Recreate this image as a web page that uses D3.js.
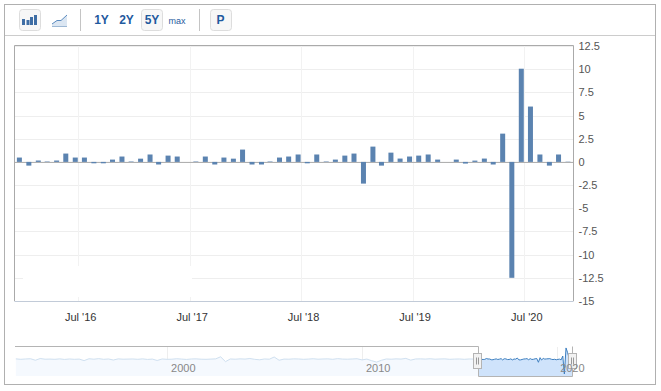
<!DOCTYPE html>
<html><head><meta charset="utf-8">
<script src="https://cdnjs.cloudflare.com/ajax/libs/d3/7.8.5/d3.min.js"></script>
<style>html,body{margin:0;padding:0;background:#fff}svg{display:block}text{font-family:"Liberation Sans",Arial,sans-serif}</style>
</head><body><svg id="c" width="661" height="391"></svg>
<script>
const months=["2015-12-18","2016-01-18","2016-02-18","2016-03-18","2016-04-18","2016-05-18","2016-06-18","2016-07-18","2016-08-18","2016-09-18","2016-10-18","2016-11-18","2016-12-18",
"2017-01-18","2017-02-18","2017-03-18","2017-04-18","2017-05-18","2017-06-18","2017-07-18","2017-08-18","2017-09-18","2017-10-18","2017-11-18","2017-12-18",
"2018-01-18","2018-02-18","2018-03-18","2018-04-18","2018-05-18","2018-06-18","2018-07-18","2018-08-18","2018-09-18","2018-10-18","2018-11-18","2018-12-18",
"2019-01-18","2019-02-18","2019-03-18","2019-04-18","2019-05-18","2019-06-18","2019-07-18","2019-08-18","2019-09-18","2019-10-18","2019-11-18","2019-12-18",
"2020-01-18","2020-02-18","2020-03-18","2020-04-18","2020-05-18","2020-06-18","2020-07-18","2020-08-18","2020-09-18","2020-10-18","2020-11-18"];
const values=[0.47,-0.4,0.15,0.05,0.15,0.9,0.47,0.47,-0.15,-0.15,0.25,0.58,0.05,0.35,0.8,-0.28,0.68,0.58,0,0.05,0.58,-0.28,0.47,0.35,1.33,-0.28,-0.28,0.05,0.47,0.58,0.8,-0.15,0.8,0.05,0.25,0.68,0.9,-2.34,1.65,-0.4,1.0,0.36,0.58,0.68,0.8,0.25,0,0.25,-0.18,0.14,0.36,-0.28,3.05,-12.5,10.05,5.97,0.8,-0.4,0.8,0.03];
const yTicks=[12.5,10,7.5,5,2.5,0,-2.5,-5,-7.5,-10,-12.5,-15];
const xTickDates=["2016-07-01","2017-07-01","2018-07-01","2019-07-01","2020-07-01"];
const xTickLabels=["Jul '16","Jul '17","Jul '18","Jul '19","Jul '20"];
const historyStart="1992-03-01";
const historyValues=[0.6,0.2,0.5,0.7,-0.6,0.9,0.3,0.4,0.2,0.6,0.1,0.5,0.2,0.4,-0.9,0.7,0.3,0.8,0.2,0.5,-0.4,0.6,0.3,0.4,0.5,0.2,0.6,0.1,0.4,-0.8,0.5,0.2,0.3,0.7,0.4,0.1,0.5,0.6,0.3,0.2,0.4,0.6,2.4,-1.8,0.5,0.3,0.6,0.4,0.9,0.2,-0.2,0.5,0.3,2.2,-0.6,0.4,0.3,0.6,0.5,0.2,0.4,0.7,0.3,0.5,0.6,0.2,0.8,0.4,0.3,0.5,0.7,-0.3,0.4,-1.0,-2.2,-0.6,0.5,0.3,0.6,0.4,1.0,-0.5,0.5,0.6,0.4,0.7,0.3,0.5,0.6,0.2,0.4,0.5,0.2,0.5,0.4];
const navLabels=[["2000","2000-11-01"],["2010","2010-11-01"],["2020","2020-10-15"]];
const navGrid=["2000-01-01","2010-01-01","2020-01-01"];

const parse=d3.utcParse("%Y-%m-%d");
const svg=d3.select("#c");
const x=d3.scaleUtc().domain([parse("2015-12-02"),parse("2020-12-06")]).range([14.5,573.5]);
const y=d3.scaleLinear().domain([-15,12.5]).range([301,46]);
const bars=months.map((m,i)=>({d:parse(m),v:values[i]}));

// outer frame and toolbar
svg.append("rect").attr("x",4.5).attr("y",4.5).attr("width",651).attr("height",380).attr("fill","#fff").attr("stroke","#b0b0b0");
svg.append("line").attr("x1",5).attr("x2",655).attr("y1",35.5).attr("y2",35.5).attr("stroke","#ccc");
[[19.5,9.5],[141.5,9.5],[210.5,9.5]].forEach(p=>svg.append("rect").attr("x",p[0]).attr("y",p[1]).attr("width",21).attr("height",21).attr("rx",3).attr("fill","#f7f7f7").attr("stroke","#ddd"));
[80.5,199.5].forEach(v=>svg.append("line").attr("x1",v).attr("x2",v).attr("y1",9).attr("y2",31).attr("stroke","#c4c4c4"));
[[22,19,3],[26.5,20,3],[30,17,3],[34,15,3]].forEach(b=>svg.append("rect").attr("x",b[0]).attr("y",b[1]).attr("width",b[2]).attr("height",25-b[1]).attr("fill","#3f6ea5"));
svg.append("path").attr("d","M52 24L57 20.5L61 20.5L67 15V26H52Z").attr("fill","#dbe6f2");
svg.append("path").attr("d","M52 24L57 20.5L61 20.5L67 15").attr("fill","none").attr("stroke","#5b8bbf");
svg.append("line").attr("x1",52).attr("x2",67).attr("y1",26.5).attr("y2",26.5).attr("stroke","#9db8d4");
[["1Y",101.5,12],["2Y",126.5,12],["5Y",152,12],["max",177,9],["P",220.5,12]].forEach(t=>svg.append("text").attr("x",t[1]).attr("y",24).attr("text-anchor","middle").attr("font-size",t[2]).attr("font-weight",t[2]===12?"bold":"normal").attr("fill","#1f5a9e").text(t[0]));

// plot grid
const g=svg.append("g");
g.selectAll(".h").data(yTicks).join("line").attr("x1",14.5).attr("x2",573.5).attr("y1",d=>Math.round(y(d))+.5).attr("y2",d=>Math.round(y(d))+.5).attr("stroke","#eee");
g.selectAll(".v").data(xTickDates).join("line").attr("x1",d=>Math.round(x(parse(d)))-.5).attr("x2",d=>Math.round(x(parse(d)))-.5).attr("y1",46).attr("y2",301).attr("stroke","#f2f2f2");
g.append("rect").attr("x",23).attr("y",266).attr("width",169).attr("height",31).attr("fill","#fff");
g.append("line").attr("x1",14.5).attr("x2",573.5).attr("y1",y(0)+.5).attr("y2",y(0)+.5).attr("stroke","#aaa");
g.selectAll(".b").data(bars).join("rect").attr("x",d=>x(d.d)-2.5).attr("width",5).attr("y",d=>y(Math.max(0,d.v))).attr("height",d=>Math.abs(y(d.v)-y(0))).attr("fill","#5b83b0");
g.append("path").attr("d","M14.5 301V45.5H573.5V301").attr("fill","none").attr("stroke","#aaa");
g.append("line").attr("x1",14.5).attr("x2",573.5).attr("y1",301.5).attr("y2",301.5).attr("stroke","#c2cbd8");

// axes
const yAxis=d3.axisRight(y).tickValues(yTicks).tickSize(0).tickPadding(5).tickFormat(d=>String(d));
const ya=svg.append("g").attr("transform","translate(573.5,0)").call(yAxis);
ya.select(".domain").remove();
ya.selectAll("text").attr("font-size",11).attr("font-family",null).attr("fill","#555");
const xAxis=d3.axisBottom(x).tickValues(xTickDates.map(parse)).tickSize(0).tickPadding(0).tickFormat((d,i)=>xTickLabels[i]);
const xa=svg.append("g").attr("transform","translate(1,313)").call(xAxis);
xa.select(".domain").remove();
xa.selectAll("text").attr("font-size",11).attr("font-family",null).attr("fill","#333");

// navigator
const navX=d3.scaleUtc().domain([parse("2000-01-01"),parse("2020-01-01")]).range([167,557]);
const navY=d3.scaleLinear().domain([-12.5,10]).range([374,348]);
const navBottom=376;
const histDates=d3.utcMonth.every(3).range(parse(historyStart),parse("2015-12-01"));
const navData=historyValues.map((v,i)=>({d:histDates[Math.min(i,histDates.length-1)],v})).concat(bars);
const navLine=d3.line().x(d=>navX(d.d)).y(d=>navY(d.v));
const navArea=d3.area().x(d=>navX(d.d)).y0(navBottom).y1(d=>navY(d.v));
const selL=478,selR=572;
const defs=svg.append("defs");
defs.append("clipPath").attr("id","left").append("rect").attr("x",15).attr("y",340).attr("width",selL-15).attr("height",40);
defs.append("clipPath").attr("id","sel").append("rect").attr("x",selL).attr("y",340).attr("width",selR-selL).attr("height",40);
navGrid.forEach(d=>svg.append("line").attr("x1",Math.round(navX(parse(d)))+.5).attr("x2",Math.round(navX(parse(d)))+.5).attr("y1",347).attr("y2",360).attr("stroke","#eee"));
const nl=svg.append("g").attr("clip-path","url(#left)");
nl.append("path").datum(navData).attr("d",navArea).attr("fill","#f5f9fe");
nl.append("path").datum(navData).attr("d",navLine).attr("fill","none").attr("stroke","#cfe0f0");
const ns=svg.append("g").attr("clip-path","url(#sel)");
ns.append("path").datum(navData).attr("d",navArea).attr("fill","#cfe3fb");
ns.append("path").datum(navData).attr("d",navLine).attr("fill","none").attr("stroke","#3d7fc0");
svg.append("path").attr("d",`M15 346.5H${selL+.5}V${navBottom+.5}H${selR+.5}V346.5`).attr("fill","none").attr("stroke","#b4b4b4");
[selL,selR+1].forEach(h=>{
  const hg=svg.append("g").attr("transform",`translate(${h-4.5},353.5)`);
  hg.append("rect").attr("width",8).attr("height",15).attr("fill","#f2f2f2").attr("stroke","#b4b4b4");
  [3,5].forEach(v=>hg.append("line").attr("x1",v).attr("x2",v).attr("y1",4).attr("y2",11).attr("stroke","#999"));
});
navLabels.forEach(l=>svg.append("text").attr("x",navX(parse(l[1]))).attr("y",372).attr("text-anchor","middle").attr("font-size",11).attr("fill","#888").text(l[0]));
</script></body></html>
